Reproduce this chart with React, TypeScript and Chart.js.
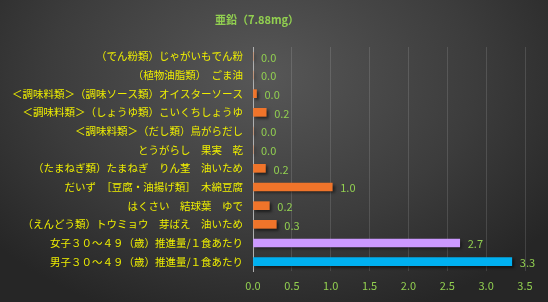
import React, { useEffect, useRef } from "react";
import { Chart, registerables } from "chart.js";

Chart.register(...registerables);

const chartTitle = "亜鉛（7.88mg）";

const categories = [
  "（でん粉類）じゃがいもでん粉",
  "（植物油脂類）　ごま油",
  "＜調味料類＞（調味ソース類）オイスターソース",
  "＜調味料類＞（しょうゆ類）こいくちしょうゆ",
  "＜調味料類＞（だし類）鳥がらだし",
  "とうがらし　果実　乾",
  "（たまねぎ類）たまねぎ　りん茎　油いため",
  "だいず　［豆腐・油揚げ類］　木綿豆腐",
  "はくさい　結球葉　ゆで",
  "（えんどう類）トウミョウ　芽ばえ　油いため",
  "女子３０～４９（歳）推進量/１食あたり",
  "男子３０～４９（歳）推進量/１食あたり",
];

const values = [0, 0, 0.045, 0.17, 0, 0, 0.16, 1.02, 0.21, 0.3, 2.66, 3.33];

const barColors = [
  "#f0742a", "#f0742a", "#f0742a", "#f0742a", "#f0742a", "#f0742a",
  "#f0742a", "#f0742a", "#f0742a", "#f0742a", "#cc99ff", "#00b0f0",
];

const xTicks = [0, 0.5, 1, 1.5, 2, 2.5, 3, 3.5];

const FONT = "'Noto Sans CJK JP', 'Noto Sans', sans-serif";
const GREEN = "#92d050";
const YELLOW = "#eeee00";

export default function App() {
  const ref = useRef<HTMLCanvasElement | null>(null);

  useEffect(() => {
    if (!ref.current) return;

    const shadowPlugin = {
      id: "barShadow",
      beforeDatasetDraw(chart: any) {
        const ctx = chart.ctx;
        ctx.save();
        ctx.shadowColor = "rgba(0,0,0,0.55)";
        ctx.shadowOffsetX = 2;
        ctx.shadowOffsetY = 2;
        ctx.shadowBlur = 3;
      },
      afterDatasetDraw(chart: any) {
        chart.ctx.restore();
      },
    };

    const labelPlugin = {
      id: "valueLabels",
      afterDatasetsDraw(chart: any) {
        const ctx = chart.ctx;
        const meta = chart.getDatasetMeta(0);
        ctx.save();
        ctx.font = `11px ${FONT}`;
        ctx.fillStyle = GREEN;
        ctx.textAlign = "left";
        ctx.textBaseline = "middle";
        meta.data.forEach((el: any, i: number) => {
          ctx.fillText(values[i].toFixed(1), el.x + 8, el.y + 1);
        });
        ctx.restore();
      },
    };

    const titlePlugin = {
      id: "customTitle",
      afterDraw(chart: any) {
        const ctx = chart.ctx;
        ctx.save();
        ctx.font = `bold 11px ${FONT}`;
        ctx.fillStyle = GREEN;
        ctx.textAlign = "center";
        ctx.textBaseline = "middle";
        ctx.fillText(chartTitle, 257, 20);
        ctx.restore();
      },
    };

    const chart = new Chart(ref.current, {
      type: "bar",
      data: {
        labels: categories,
        datasets: [
          {
            data: values,
            backgroundColor: barColors,
            barThickness: 8,
            borderWidth: 0,
          },
        ],
      },
      options: {
        indexAxis: "y",
        responsive: false,
        animation: false,
        layout: { padding: { top: 47, right: 23, bottom: 0, left: 0 } },
        plugins: {
          legend: { display: false },
          title: { display: false },
          tooltip: { enabled: false },
        },
        scales: {
          x: {
            min: 0,
            max: 3.5,
            afterBuildTicks(scale: any) {
              scale.ticks = xTicks.map((v) => ({ value: v }));
            },
            afterFit(scale: any) {
              scale.height = 31;
            },
            ticks: {
              color: GREEN,
              font: { family: FONT, size: 11 },
              padding: 8,
              callback: (v: any) => Number(v).toFixed(1),
              maxRotation: 0,
            },
            grid: {
              color: "rgba(255,255,255,0.13)",
              drawTicks: false,
            },
            border: { display: false },
          },
          y: {
            afterFit(scale: any) {
              scale.width = 253;
            },
            ticks: {
              color: YELLOW,
              font: { family: FONT, size: 10.5 },
              padding: 10,
              autoSkip: false,
            },
            grid: { display: false, drawTicks: false },
            border: { display: true, color: "#b0b0b0", width: 1 },
          },
        },
      },
      plugins: [shadowPlugin, labelPlugin, titlePlugin],
    } as any);

    return () => chart.destroy();
  }, []);

  return (
    <div
      style={{
        position: "fixed",
        left: 0,
        top: 0,
        width: 548,
        height: 302,
        background:
          "radial-gradient(ellipse 65% 85% at 48% 25%, #575757 0%, #3c3c3c 60%, #262626 100%)",
      }}
    >
      <canvas ref={ref} width={548} height={302} style={{ display: "block" }} />
    </div>
  );
}
